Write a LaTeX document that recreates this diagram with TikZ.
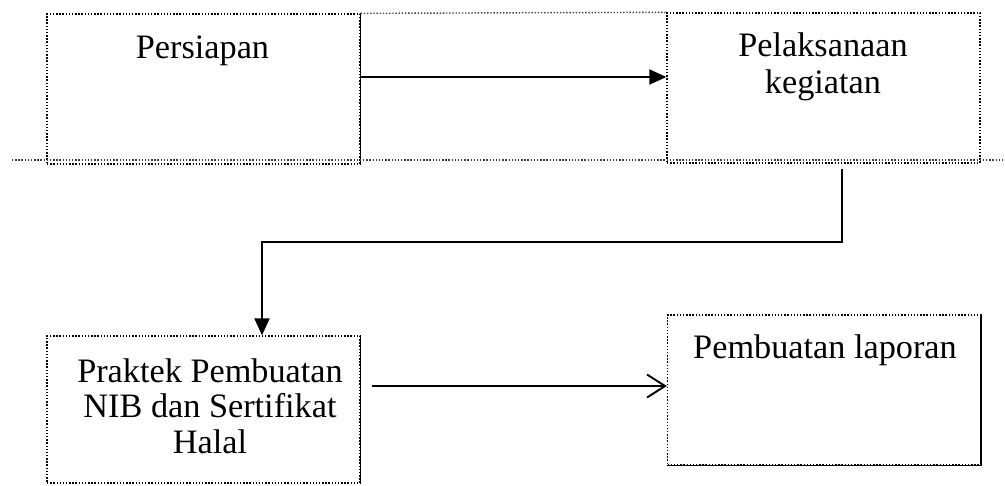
\documentclass[tikz,border=0pt]{standalone}
\usepackage{fontspec}
\setmainfont{Liberation Serif}
\usepackage{tikz}
\usetikzlibrary{arrows.meta, positioning, calc}
\tikzset{
    % Step box (dotted rectangle)
    stepbox/.style={rectangle, draw=black, densely dotted, thick,
        minimum width=6.26cm, minimum height=3cm, inner sep=0pt},
    % Step text
    steptext/.style={align=center, inner sep=0pt, anchor=base,
        font=\fontsize{19.5}{20.5}\selectfont},
    % Solid edge of a box
    boxedge/.style={thick, black},
    % Guide line across the page
    guideline/.style={densely dotted, thick, black!75},
    % Connection arrows
    flowarrow/.style={-{Triangle[length=3.4mm, width=3mm]}, line width=1.2pt},
    openarrow/.style={-{Straight Barb[length=3.6mm, width=4.6mm]}, line width=1.1pt},
}
\begin{document}
\begin{tikzpicture}[x=0.02cm, y=-0.02cm]
    \useasboundingbox (0,0) rectangle (1005,485);
    % boxes
    \node[stepbox] (prep) at (203.5,89) {};
    \node[stepbox, minimum height=3.0cm] (exec) at (823.5,88) {};
    \node[stepbox, minimum height=2.94cm] (nib) at (203.5,409.5) {};
    \node[stepbox] (report) at (824,390) {};
    % texts
    \node[steptext] (prep-t) at (202.5,58) {Persiapan};
    \node[steptext] (exec-t1) at (823,56) {Pelaksanaan};
    \node[steptext] (exec-t2) at (823,93) {kegiatan};
    \node[steptext] (nib-t1) at (210,382) {Praktek Pembuatan};
    \node[steptext] (nib-t2) at (210,417) {NIB dan Sertifikat};
    \node[steptext] (nib-t3) at (210,453) {Halal};
    \node[steptext] (report-t) at (825,358) {Pembuatan laporan};
    % solid edges
    \draw[boxedge] (prep.north east) -- (prep.south east);
    \draw[boxedge] (nib.north east) -- (nib.south east);
    \draw[boxedge] (report.north east) -- (report.south east) -- (report.south west);
    % guide lines
    \draw[guideline] (prep.north east) -- (exec.north west);
    \draw[guideline] (12,160) -- (1005,160);
    % connectors
    \coordinate (a1) at (360,77);
    \coordinate (turn-r) at (842,242);
    \coordinate (turn-l) at (262,242);
    \coordinate (a3) at (372,386);
    \draw[flowarrow] (a1 -| prep.east) -- (a1 -| exec.west);
    \draw[flowarrow] ($(exec.south -| turn-r)+(0,5)$) -- (turn-r) -- (turn-l) -- (turn-l |- nib.north);
    \draw[openarrow] (a3) -- (a3 -| report.west);
\end{tikzpicture}
\end{document}
